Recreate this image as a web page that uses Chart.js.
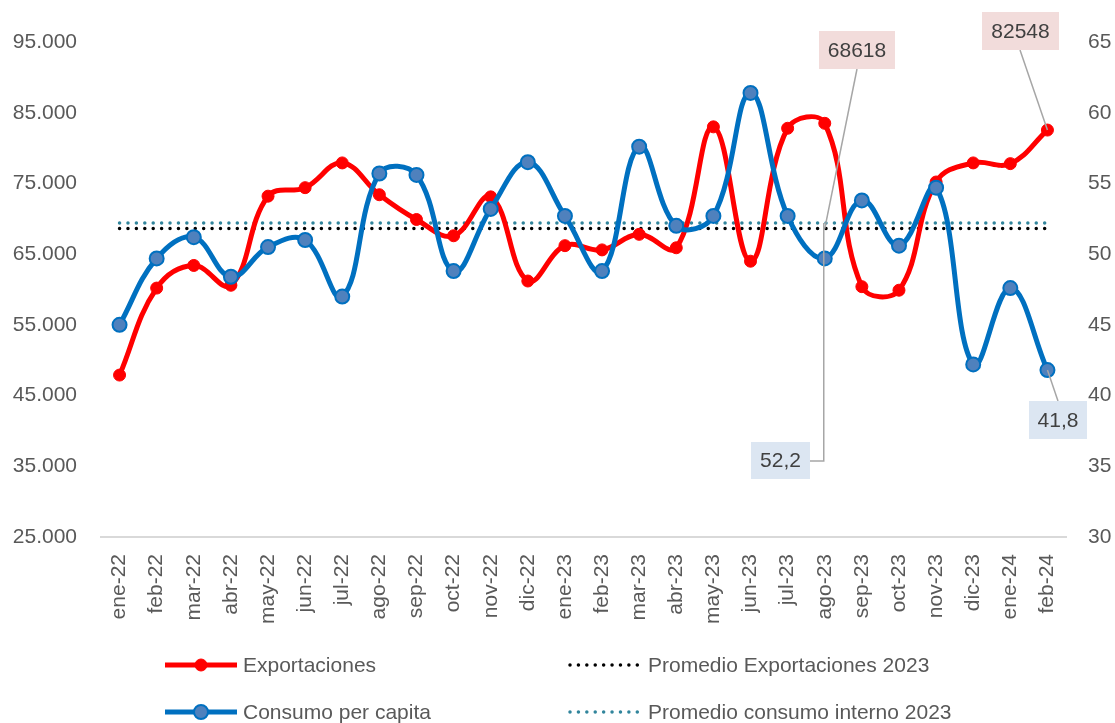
<!DOCTYPE html>
<html>
<head>
<meta charset="utf-8">
<script src="https://cdn.jsdelivr.net/npm/chart.js@4.4.1/dist/chart.umd.min.js"></script>
<style>
  body { margin: 0; background: #fff; }
  #wrap { width: 1115px; height: 723px; }
</style>
</head>
<body>
<div id="wrap"><canvas id="chart" width="1115" height="723"></canvas></div>
<script>
// months on the x axis
var months = ['ene-22', 'feb-22', 'mar-22', 'abr-22', 'may-22', 'jun-22', 'jul-22', 'ago-22', 'sep-22', 'oct-22', 'nov-22', 'dic-22',
    'ene-23', 'feb-23', 'mar-23', 'abr-23', 'may-23', 'jun-23', 'jul-23', 'ago-23', 'sep-23', 'oct-23', 'nov-23', 'dic-23',
    'ene-24', 'feb-24'];

// exportaciones (left axis)
var exportaciones = [47900, 60200, 63400, 60600, 73200, 74400, 77900, 73400, 69900, 67600, 73100, 61200,
    66200, 65600, 67800, 65900, 83000, 64000, 82800, 83500, 60400, 59900, 75200, 77900,
    77800, 82548];

// consumo per capita (right axis)
var consumo = [45.0, 49.7, 51.2, 48.4, 50.5, 51.0, 47.0, 55.7, 55.6, 48.8, 53.2, 56.5,
    52.7, 48.8, 57.6, 52.0, 52.7, 61.4, 52.7, 49.7, 53.8, 50.6, 54.7, 42.2,
    47.6, 41.8];

// promedios 2023
var promExport = 68618;
var promConsumo = 52.2;

// axis ticks
var leftTicks = { min: 25000, max: 95000, step: 10000 };
var rightTicks = { min: 30, max: 65, step: 5 };

var FONT = "'Liberation Sans', Arial, sans-serif";
var textGrey = '#595959';

var colours = {
    red: '#FF0000',
    blue: '#0070C0',
    blueMarker: '#4F81BD',
    black: '#000000',
    teal: '#31859C',
    leader: '#A6A6A6',
    pinkBox: '#F2DCDB',
    blueBox: '#DCE6F2'
};

function fmtMiles(v) {
    return String(v).replace(/\B(?=(\d{3})+(?!\d))/g, '.');
}

// callout labels (value boxes with leader lines)
var calloutPlugin = {
    id: 'callouts',
    afterDatasetsDraw: function (chart) {
        var ctx = chart.ctx;
        var x = chart.scales.x, y = chart.scales.y, y1 = chart.scales.y1;
        var last = months.length - 1;
        var agoIdx = months.indexOf('ago-23');

        var items = [
            { text: String(promExport), fill: colours.pinkBox, box: [819, 31, 76, 38],
              from: [857, 69], to: [x.getPixelForValue(agoIdx), y.getPixelForValue(promExport)] },
            { text: String(exportaciones[last]), fill: colours.pinkBox, box: [982, 12, 77, 38],
              from: [1020, 50], to: [x.getPixelForValue(last), y.getPixelForValue(exportaciones[last])] },
            { text: String(promConsumo).replace('.', ','), fill: colours.blueBox, box: [751, 442, 59, 37],
              from: [810, 461], elbow: [x.getPixelForValue(agoIdx) - 1, 461],
              to: [x.getPixelForValue(agoIdx) - 1, y1.getPixelForValue(promConsumo)] },
            { text: String(consumo[last]).replace('.', ','), fill: colours.blueBox, box: [1029, 401, 58, 38],
              from: [1058, 401], to: [x.getPixelForValue(last), y1.getPixelForValue(consumo[last])] }
        ];

        ctx.save();
        items.forEach(function (it) {
            ctx.strokeStyle = colours.leader;
            ctx.lineWidth = 1.5;
            ctx.beginPath();
            ctx.moveTo(it.from[0], it.from[1]);
            if (it.elbow) ctx.lineTo(it.elbow[0], it.elbow[1]);
            ctx.lineTo(it.to[0], it.to[1]);
            ctx.stroke();

            ctx.fillStyle = it.fill;
            ctx.fillRect(it.box[0], it.box[1], it.box[2], it.box[3]);
            ctx.fillStyle = '#404040';
            ctx.font = '21px ' + FONT;
            ctx.textAlign = 'center';
            ctx.textBaseline = 'middle';
            ctx.fillText(it.text, it.box[0] + it.box[2] / 2, it.box[1] + it.box[3] / 2 + 1);
        });
        ctx.restore();
    }
};

// legend in two columns like the excel one
var legendPlugin = {
    id: 'legend2col',
    afterDraw: function (chart) {
        var ctx = chart.ctx;
        var ds = chart.data.datasets;
        var slots = [
            { x: 165, y: 665 }, { x: 570, y: 665 },
            { x: 165, y: 712 }, { x: 570, y: 712 }
        ];
        var order = [0, 2, 1, 3];
        ctx.save();
        order.forEach(function (di, k) {
            var d = ds[di], s = slots[k];
            ctx.strokeStyle = d.borderColor;
            if (d.borderDash) {
                ctx.lineWidth = d.borderWidth;
                ctx.lineCap = 'round';
                ctx.setLineDash(d.borderDash);
                ctx.beginPath();
                ctx.moveTo(s.x, s.y);
                ctx.lineTo(s.x + 70, s.y);
                ctx.stroke();
                ctx.setLineDash([]);
            } else {
                ctx.lineWidth = d.borderWidth;
                ctx.lineCap = 'butt';
                ctx.beginPath();
                ctx.moveTo(s.x, s.y);
                ctx.lineTo(s.x + 72, s.y);
                ctx.stroke();
                ctx.beginPath();
                ctx.arc(s.x + 36, s.y, d.pointRadius, 0, Math.PI * 2);
                ctx.fillStyle = d.pointBackgroundColor;
                ctx.fill();
                ctx.lineWidth = d.pointBorderWidth;
                ctx.strokeStyle = d.pointBorderColor;
                ctx.stroke();
            }
            ctx.fillStyle = textGrey;
            ctx.font = '21px ' + FONT;
            ctx.textAlign = 'left';
            ctx.textBaseline = 'middle';
            ctx.fillText(d.label, s.x + 78, s.y + 1);
        });
        ctx.restore();
    }
};

var data = {
    labels: months,
    datasets: [{
        label: 'Exportaciones',
        data: exportaciones,
        yAxisID: 'y',
        borderColor: colours.red,
        backgroundColor: colours.red,
        borderWidth: 5,
        pointRadius: 6,
        pointBackgroundColor: colours.red,
        pointBorderColor: colours.red,
        pointBorderWidth: 1,
        tension: 0.4,
        order: 2
    }, {
        label: 'Consumo per capita',
        data: consumo,
        yAxisID: 'y1',
        borderColor: colours.blue,
        backgroundColor: colours.blue,
        borderWidth: 5,
        pointRadius: 7,
        pointBackgroundColor: colours.blueMarker,
        pointBorderColor: colours.blue,
        pointBorderWidth: 2,
        tension: 0.4,
        order: 1
    }, {
        label: 'Promedio Exportaciones 2023',
        data: months.map(function () { return promExport; }),
        yAxisID: 'y',
        borderColor: colours.black,
        borderWidth: 3.5,
        borderDash: [0.01, 8.4],
        borderCapStyle: 'round',
        pointRadius: 0,
        order: 4
    }, {
        label: 'Promedio consumo interno 2023',
        data: months.map(function () { return promConsumo; }),
        yAxisID: 'y1',
        borderColor: colours.teal,
        borderWidth: 3.5,
        borderDash: [0.01, 8.4],
        borderCapStyle: 'round',
        pointRadius: 0,
        order: 3
    }]
};

var options = {
    responsive: false,
    animation: false,
    maintainAspectRatio: false,
    layout: { padding: { top: 42, left: 0, right: 0, bottom: 0 } },
    plugins: {
        legend: { display: false },
        tooltip: { enabled: false }
    },
    scales: {
        x: {
            offset: true,
            grid: { display: false },
            border: { display: true, color: '#D9D9D9', width: 2 },
            ticks: {
                autoSkip: false, minRotation: 90, maxRotation: 90,
                color: textGrey, padding: 9,
                font: { family: FONT, size: 21 }
            },
            afterFit: function (s) { s.height = 186; }
        },
        y: {
            position: 'left',
            min: leftTicks.min, max: leftTicks.max,
            grid: { display: false },
            border: { display: false },
            ticks: {
                stepSize: leftTicks.step, color: textGrey, padding: 16,
                font: { family: FONT, size: 21 },
                callback: function (v) { return fmtMiles(v); }
            },
            afterFit: function (s) { s.width = 101; }
        },
        y1: {
            position: 'right',
            min: rightTicks.min, max: rightTicks.max,
            grid: { display: false },
            border: { display: false },
            ticks: {
                stepSize: rightTicks.step, color: textGrey, padding: 14,
                font: { family: FONT, size: 21 }
            },
            afterFit: function (s) { s.width = 49; }
        }
    }
};

var ctx = document.getElementById('chart').getContext('2d');
var myChart = new Chart(ctx, {
    type: 'line',
    data: data,
    options: options,
    plugins: [calloutPlugin, legendPlugin]
});
</script>
</body>
</html>
